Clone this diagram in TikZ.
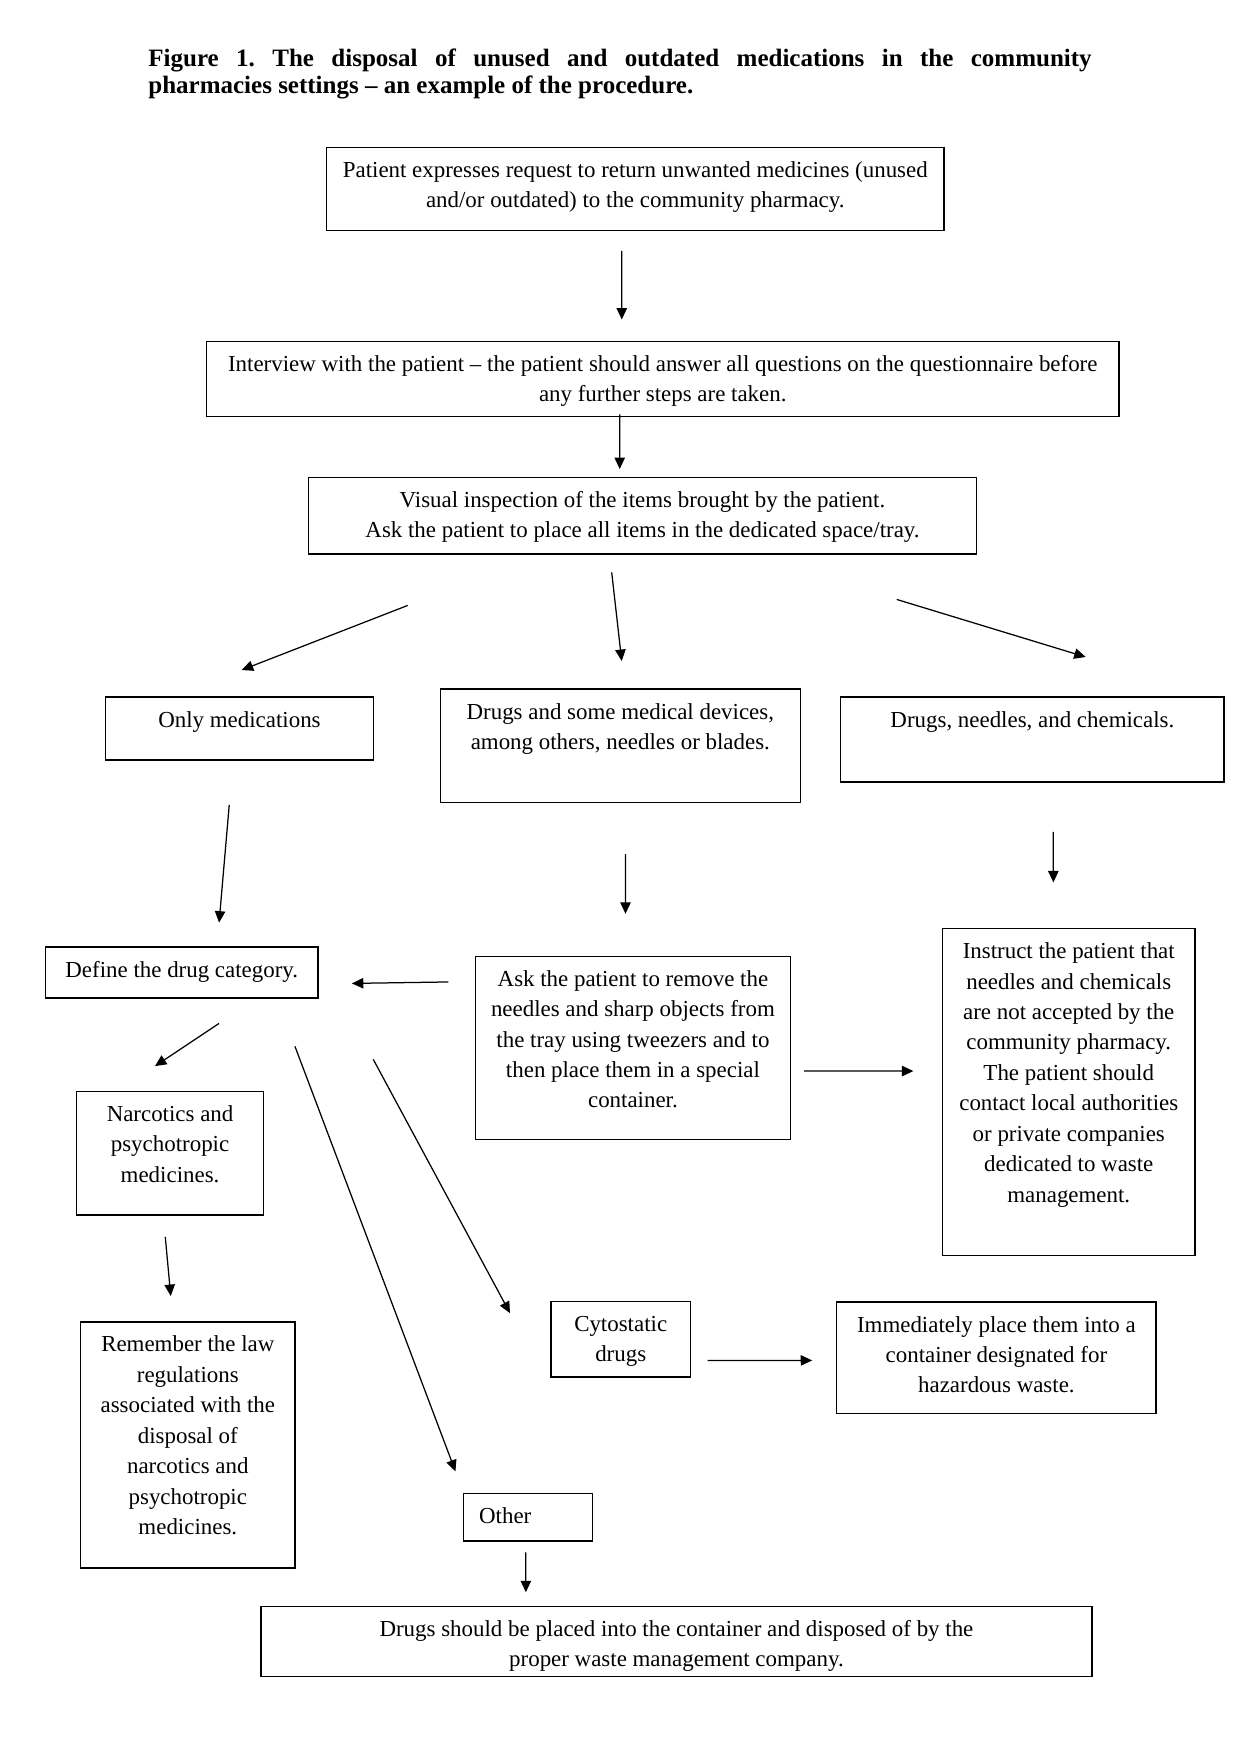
\documentclass[tikz,border=0pt]{standalone}
\usepackage{fontspec}
\setmainfont{Liberation Serif}
\usetikzlibrary{calc,arrows.meta,positioning}

\begin{document}
\frenchspacing
\begin{tikzpicture}[x=0.48pt, y=-0.48pt, font=\fontsize{11}{14.6}\selectfont,
  stepbox/.style={draw, line width=0.7pt, anchor=north west, inner xsep=0pt, inner ysep=0pt, align=center, text height=14.4pt},
  arr/.style={-{Triangle[length=5.5pt,width=5pt]}, line width=0.6pt}]
\useasboundingbox (0,0) rectangle (1240,1754);
\node[anchor=north west, inner sep=0pt, text width=452.8pt, align=justify, font=\fontsize{12}{13.4}\selectfont\bfseries] (title) at (148,48) {Figure 1. The disposal of unused and outdated medications in the community\linebreak pharmacies settings – an example of the procedure.};
% top of the procedure
\node[stepbox, minimum width=296.2pt, text height=29pt, text depth=10.8pt] (patient) at (326,146.6) {Patient expresses request to return unwanted medicines (unused\\ and/or outdated) to the community pharmacy.};
\node[stepbox, minimum width=437.8pt, text height=29pt, text depth=7.2pt] (interview) at (206,340.6) {Interview with the patient – the patient should answer all questions on the questionnaire before\\ any further steps are taken.};
\node[stepbox, minimum width=320.8pt, text height=29pt, text depth=7.9pt] (visual) at (307.6,476.5) {Visual inspection of the items brought by the patient.\\ Ask the patient to place all items in the dedicated space/tray.};
% three kinds of items
\node[stepbox, minimum width=128.4pt, text depth=15.7pt] (onlymed) at (105,696.4) {Only medications};
\node[stepbox, minimum width=172.7pt, text height=29pt, text depth=25.4pt] (devices) at (439.7,688.4) {Drugs and some medical devices,\\ among others, needles or blades.};
\node[stepbox, minimum width=184pt, text depth=26.4pt] (needles) at (840,696.4) {Drugs, needles, and chemicals.};
\node[stepbox, minimum width=130.6pt, text depth=10pt] (define) at (45,946.3) {Define the drug category.};
\node[stepbox, minimum width=151.4pt, text height=72.8pt, text depth=15.2pt] (ask) at (474.5,955.5) {Ask the patient to remove the\\ needles and sharp objects from\\ the tray using tweezers and to\\ then place them in a special\\ container.};
\node[stepbox, minimum width=121pt, text height=131.2pt, text depth=25.7pt] (instruct) at (942,928) {Instruct the patient that\\ needles and chemicals\\ are not accepted by the\\ community pharmacy.\\ The patient should\\ contact local authorities\\ or private companies\\ dedicated to waste\\ management.};
% drug categories
\node[stepbox, minimum width=89.6pt, text height=43.6pt, text depth=15.7pt] (narc) at (76,1090.6) {Narcotics and\\ psychotropic\\ medicines.};
\node[stepbox, minimum width=102.9pt, text height=102pt, text depth=16.2pt] (remember) at (79.9,1321.2) {Remember the law\\ regulations\\ associated with the\\ disposal of\\ narcotics and\\ psychotropic\\ medicines.};
\node[stepbox, minimum width=66.8pt, text height=29pt, text depth=7.3pt] (cyto) at (550.4,1300.7) {Cytostatic\\ drugs};
\node[stepbox, minimum width=153.4pt, text height=43.6pt, text depth=9.8pt] (imm) at (835.9,1301.4) {Immediately place them into a\\ container designated for\\ hazardous waste.};
\node[stepbox, text width=46.7pt, inner xsep=7.6pt, align=left, text depth=8.5pt] (other) at (462.6,1492.6) {Other};
\node[stepbox, minimum width=398.9pt, text height=29pt, text depth=4.6pt] (drugs) at (260.2,1605.7) {Drugs should be placed into the container and disposed of by the\\ proper waste management company.};
% arrows
\draw[arr] ($(patient.south)+(-13.5,19.9)$) -- ($(interview.north)+(-41,-21.1)$);
\draw[arr] ($(interview.south)+(-43,-3)$) -- ($(visual.north)+(-22.8,-7.5)$);
\draw[arr] ($(visual.south)+(-234.8,50.6)$) -- ($(onlymed.north)+(2.25,-26.4)$);
\draw[arr] ($(visual.south)+(-30.8,17.6)$) -- ($(devices.north)+(1.4,-27.4)$);
\draw[arr] ($(visual.south)+(254.2,44.6)$) -- ($(needles.north)+(53.3,-39.4)$);
\draw[arr] ($(onlymed.south)+(-10.25,44.4)$) -- ($(define.north)+(37.3,-23.7)$);
\draw[arr] ($(devices.south)+(5.2,50.9)$) -- ($(ask.north)+(-7.45,-41.7)$);
\draw[arr] ($(needles.south)+(20.9,49)$) -- ($(instruct.north)+(-15.4,-45.6)$);
\draw[arr] ($(ask.west)+(-26.1,-65.95)$) -- ($(define.east)+(33.3,10.95)$);
\draw[arr] ($(ask.east)+(12.7,23.15)$) -- ($(instruct.west)+(-28.6,-21.1)$);
\draw[arr] ($(define.south)+(37.3,24.8)$) -- ($(narc.north)+(-15.1,-24.5)$);
\draw[arr] ($(define.south)+(113.2,47.8)$) -- ($(other.north)+(-72.35,-21.2)$);
\draw[arr] ($(define.south)+(191.5,60.8)$) -- ($(cyto.west)+(-40.4,-26.1)$);
\draw[arr] ($(narc.south)+(-4.8,21.2)$) -- ($(remember.north)+(-17.05,-25.2)$);
\draw[arr] ($(cyto.east)+(16.6,21.2)$) -- ($(imm.west)+(-23.7,2.65)$);
\draw[arr] ($(other.south)+(-1.95,10.6)$) -- ($(drugs.north)+(-150.6,-13.5)$);
\end{tikzpicture}
\end{document}
